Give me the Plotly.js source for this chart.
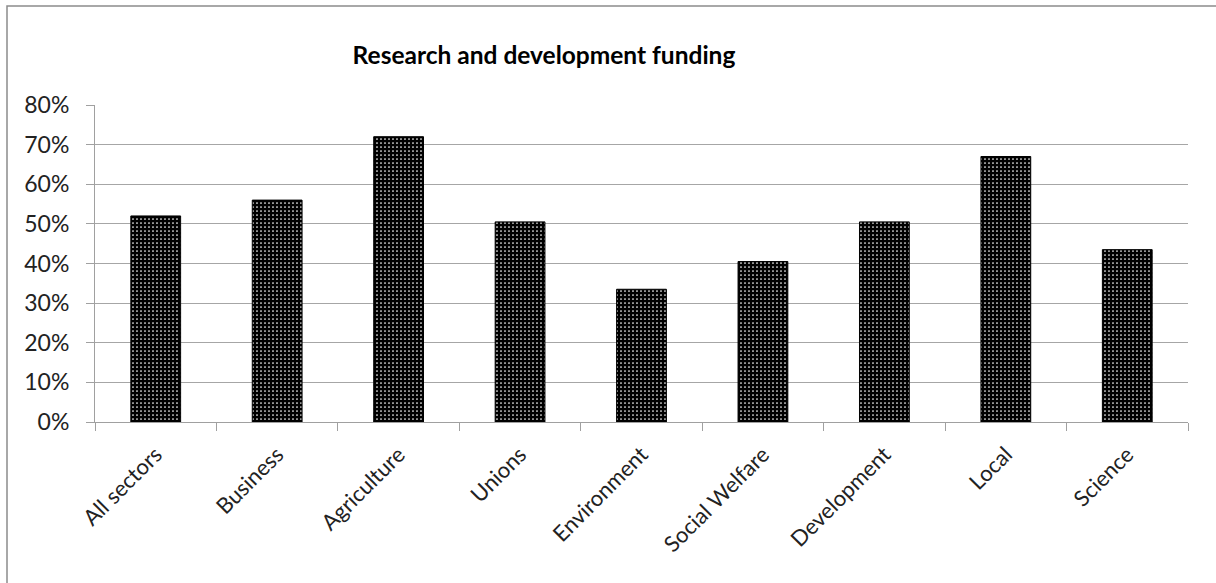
<!DOCTYPE html>
<html>
<head>
<meta charset="utf-8">
<script src="https://cdn.plot.ly/plotly-3.0.1.min.js"></script>
<style>
html,body{margin:0;padding:0;background:#fff;}
#chart{width:1216px;height:583px;}
</style>
</head>
<body>
<div id="chart"></div>
<script>
const categories = ["All sectors","Business","Agriculture","Unions","Environment","Social Welfare","Development","Local","Science"];
const values = [0.52, 0.56, 0.72, 0.505, 0.335, 0.405, 0.505, 0.67, 0.435];
const chartTitle = "Research and development funding";

const trace = {
  type: "bar",
  x: categories,
  y: values,
  marker: {
    color: "#000000",
    line: {color: "#000000", width: 1},
    pattern: {shape: ".", fgcolor: "#ffffff", bgcolor: "#000000", fgopacity: 1, size: 4, solidity: 0.15, fillmode: "overlay"}
  },
  hoverinfo: "x+y"
};

const layout = {
  width: 1216,
  height: 583,
  margin: {l: 95, r: 28, t: 105, b: 161},
  paper_bgcolor: "#ffffff",
  plot_bgcolor: "#ffffff",
  showlegend: false,
  bargap: 0.59,
  font: {family: "Lato, 'Open Sans', sans-serif", color: "#222222", size: 20},
  title: {
    text: chartTitle,
    font: {family: "Lato, 'Open Sans', sans-serif", size: 24.5, color: "#000000", weight: "bold"},
    x: 544 / 1216, xanchor: "center",
    y: 1 - 55 / 583, yanchor: "middle",
    xref: "container", yref: "container"
  },
  xaxis: {
    type: "category",
    showline: true, linecolor: "#a0a0a0", linewidth: 1,
    ticks: "outside", tickson: "boundaries", ticklen: 8, tickcolor: "#a0a0a0",
    tickangle: -45,
    ticklabelstandoff: 10,
    tickfont: {size: 22, color: "#222222"},
    showgrid: false, zeroline: false,
    fixedrange: true
  },
  yaxis: {
    range: [0, 0.8], dtick: 0.1, tickformat: ".0%",
    showline: true, linecolor: "#a0a0a0", linewidth: 1,
    ticks: "outside", ticklen: 8, tickcolor: "#a0a0a0",
    ticklabelstandoff: 12,
    showgrid: true, gridcolor: "#a6a6a6", gridwidth: 1,
    zeroline: false,
    tickfont: {size: 23, color: "#222222"},
    fixedrange: true
  },
  shapes: [{
    type: "rect", xref: "paper", yref: "paper",
    x0: (7 - 95) / 1093, x1: 1.5, y0: -1, y1: (422 - 6) / 317,
    line: {color: "#8c8c8c", width: 1.5}, fillcolor: "rgba(0,0,0,0)", layer: "below"
  }]
};

Plotly.newPlot("chart", [trace], layout, {displayModeBar: false, staticPlot: true});
</script>
</body>
</html>
